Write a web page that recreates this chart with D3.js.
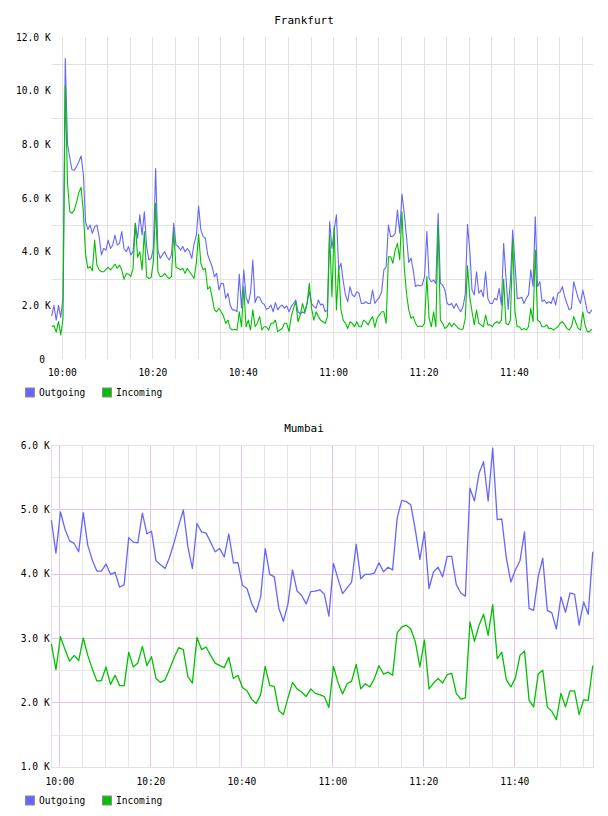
<!DOCTYPE html>
<html>
<head>
<meta charset="utf-8">
<script src="https://cdn.jsdelivr.net/npm/d3@7"></script>
<style>
  body { margin: 0; background: #fff; }
  svg text { font-family: "DejaVu Sans Mono", monospace; fill: #000; white-space: pre; }
</style>
</head>
<body>
<svg id="chart" width="608" height="816"></svg>
<script>
"use strict";

/* Data, in K per sample */
var seriesNames = ["Outgoing", "Incoming"];
var seriesColors = ["#6666ff", "#00c000"];

var frankfurtStart = "09:57:44";
var frankfurtStep = 30; // seconds between samples
var frankfurtOutgoing = [
  1.6, 2.0, 1.45, 2.0, 1.55, 2.3, 11.2, 8.0, 7.5, 7.05,
  7.04, 7.17, 7.35, 7.57, 6.9, 5.1, 4.83, 4.99, 4.68, 4.93,
  4.99, 4.55, 3.88, 4.12, 4.06, 4.43, 4.12, 4.25, 4.62, 4.25,
  4.31, 4.75, 4.12, 4.0, 4.19, 3.88, 4.0, 5.06, 4.5, 5.37,
  4.62, 5.49, 4.19, 3.69, 3.75, 4.12, 7.1, 4.06, 3.75, 3.88,
  4.0, 3.81, 3.69, 3.88, 5.06, 4.25, 4.19, 4.06, 4.19, 4.0,
  4.12, 4.0, 3.75, 4.3, 4.6, 5.7, 4.81, 4.56, 4.5, 3.9,
  3.66, 3.44, 3.07, 3.19, 2.57, 2.82, 2.8, 2.26, 2.45, 2.01,
  1.83, 1.83, 1.76, 3.17, 1.9, 3.32, 2.32, 2.07, 2.47, 3.69,
  2.1, 2.32, 2.3, 2.1, 2.04, 1.85, 1.89, 2.01, 1.76, 2.1,
  1.83, 1.95, 2.01, 1.89, 1.98, 1.76, 1.95, 2.07, 2.2, 1.76,
  1.68, 1.76, 1.7, 2.07, 2.51, 2.07, 1.95, 1.89, 2.2, 2.01,
  2.05, 1.76, 1.83, 5.12, 4.12, 4.81, 5.37, 3.32, 3.57, 2.9,
  2.39, 2.14, 2.7, 2.39, 2.32, 2.51, 2.45, 2.07, 2.07, 2.14,
  2.07, 2.07, 2.57, 2.07, 2.2, 2.3, 2.5, 3.32, 3.44, 4.99,
  4.56, 4.58, 4.68, 5.55, 4.7, 6.15, 5.43, 4.56, 3.6, 3.76,
  3.3, 2.7, 2.76, 2.72, 2.76, 3.07, 4.75, 3.0, 2.88, 2.94,
  2.82, 5.43, 2.82, 2.76, 2.57, 2.07, 2.01, 2.07, 1.89, 2.07,
  1.89, 1.76, 1.95, 2.4, 5.02, 4.06, 2.57, 2.39, 3.25, 2.45,
  2.57, 2.32, 3.25, 2.26, 2.07, 2.07, 2.26, 2.2, 2.63, 2.01,
  4.31, 3.07, 1.85, 2.94, 4.81, 3.57, 2.26, 2.26, 2.3, 2.07,
  2.26, 2.39, 3.32, 2.7, 5.3, 2.7, 2.88, 2.14, 2.2, 2.07,
  2.14, 2.07, 2.32, 2.01, 2.45, 2.5, 2.7, 2.32, 2.07, 1.83,
  1.89, 2.88, 2.57, 2.26, 2.07, 2.57, 2.2, 1.76, 1.7, 1.83
];
var frankfurtIncoming = [
  1.2, 1.25, 1.0, 1.4, 0.9, 1.5, 10.2, 6.55, 5.49, 5.43,
  5.55, 5.85, 6.2, 6.4, 5.5, 3.9, 3.38, 3.44, 3.29, 4.43,
  3.5, 3.32, 3.25, 3.25, 3.34, 3.42, 3.32, 3.42, 3.54, 3.38,
  3.5, 3.32, 2.97, 3.19, 3.16, 3.07, 3.38, 5.06, 3.79, 4.0,
  3.32, 4.75, 3.07, 3.0, 3.04, 3.63, 5.8, 3.25, 3.07, 3.09,
  3.19, 3.07, 3.0, 3.07, 4.75, 3.42, 3.38, 3.32, 3.38, 3.19,
  3.38, 3.25, 3.13, 3.0, 3.57, 4.65, 3.57, 3.32, 3.38, 2.6,
  2.7, 2.3, 1.83, 1.76, 1.89, 1.76, 1.6, 1.33, 1.45, 1.14,
  1.08, 1.11, 1.08, 1.76, 1.2, 2.7, 1.2, 1.45, 1.08, 1.83,
  1.2, 1.33, 1.58, 1.08, 1.2, 1.2, 1.08, 1.33, 1.33, 1.45,
  1.02, 1.08, 1.14, 1.33, 1.33, 1.02, 1.58, 1.89, 2.14, 1.39,
  1.64, 2.07, 1.76, 2.07, 2.82, 1.89, 1.45, 1.76, 1.58, 1.45,
  1.39, 1.33, 1.58, 4.62, 2.32, 4.93, 1.83, 3.44, 1.83, 1.45,
  1.33, 1.14, 1.39, 1.33, 1.2, 1.39, 1.2, 1.2, 1.45, 1.39,
  1.27, 1.45, 1.58, 1.18, 1.52, 1.64, 1.76, 1.76, 1.33, 3.81,
  3.81, 3.57, 4.06, 4.31, 3.7, 5.49, 3.44, 2.45, 1.83, 1.52,
  1.58, 1.33, 1.2, 1.23, 1.2, 1.33, 3.07, 1.52, 1.2, 1.76,
  1.2, 4.99, 1.45, 1.33, 1.14, 1.2, 1.35, 1.2, 1.33, 1.23,
  1.14, 1.11, 1.11, 1.5, 3.47, 2.32, 1.76, 1.27, 1.83, 1.33,
  1.27, 1.2, 1.64, 1.27, 1.27, 1.2, 1.33, 1.39, 1.33, 1.45,
  2.97, 1.33, 1.27, 1.45, 4.46, 1.76, 1.2, 1.2, 1.08, 1.14,
  1.08, 1.2, 1.89, 1.39, 4.06, 1.45, 1.39, 1.2, 1.2, 1.27,
  1.14, 1.14, 1.08, 1.14, 1.2, 1.33, 1.39, 1.27, 1.14, 1.08,
  1.2, 1.58, 1.35, 1.14, 1.08, 1.76, 1.27, 1.02, 1.02, 1.11
];

var mumbaiStart = "09:58:15";
var mumbaiStep = 60;
var mumbaiOutgoing = [
  4.83, 4.32, 4.96, 4.69, 4.51, 4.47, 4.34, 4.95, 4.44, 4.21,
  4.04, 4.04, 4.15, 3.99, 4.02, 3.79, 3.83, 4.56, 4.49, 4.48,
  4.94, 4.62, 4.66, 4.20, 4.14, 4.08, 4.26, 4.49, 4.75, 4.99,
  4.42, 4.08, 4.78, 4.65, 4.63, 4.49, 4.34, 4.39, 4.26, 4.62,
  4.17, 4.17, 3.82, 3.77, 3.54, 3.40, 3.64, 4.39, 3.99, 3.95,
  3.46, 3.26, 3.53, 4.06, 3.73, 3.66, 3.53, 3.72, 3.73, 3.75,
  3.68, 3.34, 4.16, 3.92, 3.69, 3.78, 3.87, 4.46, 3.92, 3.99,
  3.99, 4.01, 4.17, 4.03, 4.10, 4.06, 4.86, 5.14, 5.12, 5.07,
  4.68, 4.22, 4.65, 3.77, 4.03, 4.10, 3.95, 4.27, 4.27, 3.83,
  3.70, 3.65, 5.33, 5.13, 5.56, 5.74, 5.13, 5.95, 4.84, 4.85,
  4.24, 3.87, 4.06, 4.20, 4.65, 3.46, 3.43, 3.95, 4.24, 3.43,
  3.39, 3.14, 3.64, 3.40, 3.70, 3.68, 3.20, 3.56, 3.37, 4.34
];
var mumbaiIncoming = [
  2.91, 2.51, 3.02, 2.82, 2.64, 2.73, 2.65, 3.00, 2.73, 2.52,
  2.33, 2.34, 2.55, 2.28, 2.42, 2.26, 2.26, 2.78, 2.55, 2.61,
  2.87, 2.57, 2.71, 2.37, 2.31, 2.35, 2.52, 2.70, 2.85, 2.82,
  2.40, 2.30, 3.01, 2.82, 2.86, 2.73, 2.61, 2.57, 2.54, 2.70,
  2.37, 2.42, 2.23, 2.18, 2.05, 1.98, 2.12, 2.56, 2.26, 2.25,
  1.87, 1.81, 2.07, 2.31, 2.21, 2.16, 2.09, 2.21, 2.14, 2.12,
  2.09, 1.92, 2.56, 2.31, 2.13, 2.29, 2.33, 2.59, 2.21, 2.29,
  2.24, 2.37, 2.57, 2.44, 2.47, 2.42, 3.08, 3.17, 3.20, 3.14,
  2.94, 2.55, 2.97, 2.21, 2.30, 2.37, 2.30, 2.43, 2.45, 2.14,
  2.05, 2.07, 3.25, 2.95, 3.20, 3.37, 3.04, 3.52, 2.68, 2.78,
  2.35, 2.24, 2.38, 2.73, 2.80, 2.03, 1.93, 2.44, 2.50, 1.93,
  1.86, 1.73, 2.14, 1.93, 2.18, 2.18, 1.81, 2.04, 2.03, 2.57
];

var frankfurtTicks = [0, 2, 4, 6, 8, 10, 12];
var frankfurtGrid = [1, 3, 5, 7, 9, 11];
var mumbaiTicks = [1, 2, 3, 4, 5, 6];
var mumbaiGrid = [1.5, 2.5, 3.5, 4.5, 5.5];


var parseTime = d3.timeParse("%H:%M:%S");
var svg = d3.select("#chart");

var yFormat = function (d) { return d == 0 ? "0 " : d.toFixed(1) + " K"; };

var drawChart = function (cfg) {

  var x = d3.scaleTime()
            .domain(cfg.xDomain.map(parseTime))
            .range([cfg.left, cfg.right]);

  var y = d3.scaleLinear()
            .domain(cfg.yDomain)
            .range([cfg.bottom, cfg.top]);

  var start = parseTime(cfg.start);
  var toPoints = function (values) {
    return values.map(function (v, i) {
      return { t: d3.timeSecond.offset(start, i * cfg.step), v: v };
    });
  };

  var g = svg.append("g");

  // minor time grid every 5 min
  var minor = d3.timeMinute.every(5).range(x.domain()[0], x.domain()[1]);
  g.selectAll(".vgrid")
   .data(minor)
   .enter()
   .append("line")
   .attr("x1", function (d) { return Math.round(x(d)) + 0.5; })
   .attr("x2", function (d) { return Math.round(x(d)) + 0.5; })
   .attr("y1", cfg.top)
   .attr("y2", cfg.bottom)
   .attr("stroke", function (d) {
     return (cfg.majorColor && d.getMinutes() % 20 == 0) ? cfg.majorColor : cfg.gridColor;
   });

  // value grid
  g.selectAll(".hgrid")
   .data(cfg.grid)
   .enter()
   .append("line")
   .attr("x1", cfg.left)
   .attr("x2", cfg.right)
   .attr("y1", function (d) { return Math.round(y(d)) + 0.5; })
   .attr("y2", function (d) { return Math.round(y(d)) + 0.5; })
   .attr("stroke", cfg.gridColor);

  if (cfg.majorColor) {
    g.selectAll(".hmajor")
     .data(cfg.ticks.slice(1, -1))
     .enter()
     .append("line")
     .attr("x1", cfg.left)
     .attr("x2", cfg.right)
     .attr("y1", function (d) { return Math.round(y(d)) + 0.5; })
     .attr("y2", function (d) { return Math.round(y(d)) + 0.5; })
     .attr("stroke", cfg.majorColor);

    g.append("rect")
     .attr("x", Math.round(cfg.left) + 0.5)
     .attr("y", Math.round(cfg.top) + 0.5)
     .attr("width", Math.round(cfg.right - cfg.left))
     .attr("height", Math.round(cfg.bottom - cfg.top))
     .attr("fill", "none")
     .attr("stroke", cfg.borderColor)
     .attr("stroke-width", 1);
  }

  // series
  var line = d3.line()
               .x(function (d) { return x(d.t); })
               .y(function (d) { return y(d.v); });

  [cfg.outgoing, cfg.incoming].forEach(function (values, i) {
    g.append("path")
     .datum(toPoints(values))
     .attr("fill", "none")
     .attr("stroke", seriesColors[i])
     .attr("stroke-width", cfg.lineWidth)
     .attr("stroke-linejoin", "round")
     .attr("d", line);
  });

  // axes
  var yAxis = d3.axisLeft(y)
                .tickValues(cfg.ticks)
                .tickSize(0)
                .tickPadding(1)
                .tickFormat(yFormat);

  g.append("g")
   .attr("transform", "translate(" + cfg.left + ",0)")
   .call(yAxis)
   .call(function (a) { a.select(".domain").remove(); })
   .selectAll("text")
   .style("font-family", "'DejaVu Sans Mono', monospace")
   .style("font-size", "9.6px");

  var xAxis = d3.axisBottom(x)
                .ticks(d3.timeMinute.every(20))
                .tickSize(0)
                .tickPadding(cfg.xPad)
                .tickFormat(d3.timeFormat("%H:%M"));

  g.append("g")
   .attr("transform", "translate(0," + cfg.bottom + ")")
   .call(xAxis)
   .call(function (a) { a.select(".domain").remove(); })
   .selectAll("text")
   .style("font-family", "'DejaVu Sans Mono', monospace")
   .style("font-size", "9.6px");

  // title
  svg.append("text")
     .attr("x", 304)
     .attr("y", cfg.titleY)
     .attr("text-anchor", "middle")
     .style("font-size", "11px")
     .text(cfg.title);

  // legend
  var legend = svg.append("g")
                  .attr("transform", "translate(0," + cfg.legendY + ")");
  var legendX = [25, 102];
  seriesNames.forEach(function (name, i) {
    legend.append("rect")
          .attr("x", legendX[i] + 0.5)
          .attr("y", -4.5)
          .attr("width", 9)
          .attr("height", 9)
          .attr("fill", seriesColors[i])
          .attr("stroke", "#8c8c8c");
    legend.append("text")
          .attr("x", legendX[i] + 14)
          .attr("y", 0)
          .attr("dy", "0.35em")
          .style("font-size", "9.6px")
          .text(name);
  });
};


drawChart({
  title: "Frankfurt", titleY: 24,
  left: 51.7, right: 593, top: 37, bottom: 359,
  xDomain: ["09:57:44", "11:57:30"],
  yDomain: [0, 12],
  start: frankfurtStart, step: frankfurtStep,
  outgoing: frankfurtOutgoing, incoming: frankfurtIncoming,
  ticks: frankfurtTicks, grid: frankfurtGrid,
  gridColor: "#e2e2e2", majorColor: null,
  lineWidth: 1.1, xPad: 10, legendY: 392.5
});

drawChart({
  title: "Mumbai", titleY: 432,
  left: 50.7, right: 593, top: 445, bottom: 766.7,
  xDomain: ["09:58:06", "11:57:18"],
  yDomain: [1, 6],
  start: mumbaiStart, step: mumbaiStep,
  outgoing: mumbaiOutgoing, incoming: mumbaiIncoming,
  ticks: mumbaiTicks, grid: mumbaiGrid,
  gridColor: "#e6e6e6", majorColor: "#e0c8e0", borderColor: "#eadcea",
  lineWidth: 1.3, xPad: 11.5, legendY: 800.5
});

</script>
</body>
</html>
